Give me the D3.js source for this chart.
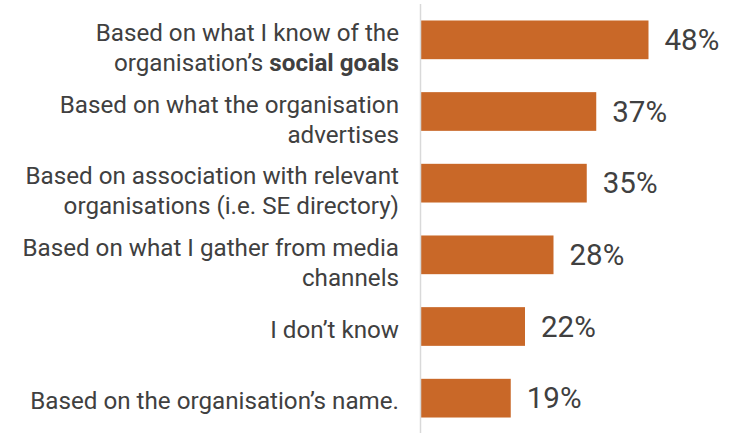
<!DOCTYPE html>
<html>
<head>
<meta charset="utf-8">
<script src="https://cdn.jsdelivr.net/npm/d3@7"></script>
<style>
  body { margin: 0; background: #fff; }
  svg { display: block; }
</style>
</head>
<body>
<svg></svg>
<script>
// categories, top to bottom (each is a list of lines, **bold** parts marked)
var categories = [
  ["Based on what I know of the", "organisation\u2019s **social goals**"],
  ["Based on what the organisation", "advertises"],
  ["Based on association with relevant", "organisations (i.e. SE directory)"],
  ["Based on what I gather from media", "channels"],
  ["I don\u2019t know"],
  ["Based on the organisation\u2019s name."]
];
var values = [48, 37, 35, 28, 22, 19];

var screen = { width: 736, height: 433 };
var axisX = 420.5;

var svg = d3.select("svg")
            .attr("width", screen.width)
            .attr("height", screen.height);

var ids = categories.map(function(d, i){ return i; });

var yScale = d3.scaleBand()
               .domain(ids)
               .range([4, 434])
               .paddingInner(0.46)
               .paddingOuter(0.23);

var xScale = d3.scaleLinear()
               .domain([0, 60])
               .range([axisX, axisX + 60 * 4.75]);

svg.selectAll("rect.bar")
   .data(values)
   .enter()
   .append("rect")
   .attr("class", "bar")
   .attr("x", xScale(0))
   .attr("y", function(d, i){ return yScale(i); })
   .attr("width", function(d){ return xScale(d) - xScale(0); })
   .attr("height", yScale.bandwidth())
   .attr("fill", "#c96828");

// value labels
svg.selectAll("text.val")
   .data(values)
   .enter()
   .append("text")
   .attr("class", "val")
   .attr("x", function(d){ return xScale(d) + 16; })
   .attr("y", function(d, i){ return yScale(i) + yScale.bandwidth() / 2 + 10; })
   .attr("font-family", "Roboto, sans-serif")
   .attr("font-size", 29.5)
   .attr("fill", "#404040")
   .text(function(d){ return d + "%"; });

// category labels
var lab = svg.selectAll("text.cat")
   .data(categories)
   .enter()
   .append("text")
   .attr("class", "cat")
   .attr("text-anchor", "end")
   .attr("font-family", "Roboto, sans-serif")
   .attr("font-size", 24.2)
   .attr("fill", "#404040");

lab.each(function(lines, i){
  var t = d3.select(this);
  var c = yScale(i) + yScale.bandwidth() / 2;
  var first = lines.length > 1 ? c + 1 : c + 11;
  lines.forEach(function(line, j){
    var parts = line.split("**");
    parts.forEach(function(p, k){
      if (p === "") return;
      var ts = t.append("tspan").text(p);
      if (k === 0 || (k === 1 && parts[0] === "")) {
        ts.attr("x", 399).attr("y", first + j * 30);
      }
      if (k % 2 === 1) ts.attr("font-weight", "bold");
    });
  });
});

// vertical axis line
svg.append("line")
   .attr("x1", axisX).attr("x2", axisX)
   .attr("y1", 4).attr("y2", 433)
   .attr("stroke", "#d9d9d9")
   .attr("stroke-width", 1.5);
</script>
</body>
</html>
